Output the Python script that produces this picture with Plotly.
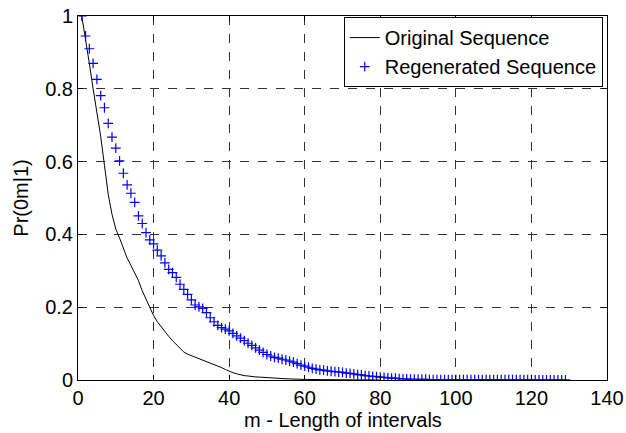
import plotly.graph_objects as go

# Original sequence (solid black line)
orig_m = [1, 2, 3, 4, 5, 6, 7, 8, 9, 10, 11, 12, 13, 14, 15, 16, 17, 18, 19, 20,
          21, 22, 23, 24, 25, 26, 27, 28, 29, 30, 31, 32, 33, 34, 35, 36, 37, 38, 39, 40,
          41, 42, 43, 44, 45, 46, 47, 48, 49, 50, 52, 54, 56, 58, 60, 65, 70, 75, 80]
orig_p = [1.0, 0.94, 0.87, 0.80, 0.74, 0.67, 0.59, 0.51, 0.455, 0.415, 0.39, 0.36, 0.335,
          0.315, 0.295, 0.273, 0.245, 0.222, 0.2, 0.177, 0.16, 0.146, 0.131, 0.12, 0.108,
          0.097, 0.086, 0.077, 0.071, 0.067, 0.064, 0.06, 0.056, 0.052, 0.048, 0.044, 0.039,
          0.034, 0.029, 0.024, 0.02, 0.017, 0.014, 0.012, 0.011, 0.009, 0.0085, 0.008, 0.007,
          0.006, 0.005, 0.004, 0.003, 0.002, 0.0015, 0.001, 0.0006, 0.0003, 0.0]

# Regenerated sequence (blue + markers), m = 1..129
regen_m = list(range(1, 130))
regen_p = [1.0, 0.945, 0.91, 0.87, 0.826, 0.781, 0.748, 0.705, 0.667, 0.637,
           0.602, 0.568, 0.536, 0.513, 0.488, 0.451, 0.43, 0.405, 0.385, 0.374,
           0.357, 0.341, 0.322, 0.304, 0.295, 0.282, 0.263, 0.249, 0.235, 0.22,
           0.206, 0.201, 0.197, 0.185, 0.171, 0.16, 0.15, 0.144, 0.14, 0.135,
           0.128, 0.121, 0.115, 0.108, 0.101, 0.095, 0.088, 0.082, 0.076, 0.07,
           0.066, 0.062, 0.06, 0.057, 0.055, 0.052, 0.049, 0.045, 0.041, 0.038,
           0.035, 0.032, 0.03, 0.028, 0.027, 0.025, 0.024, 0.023, 0.022, 0.021,
           0.019, 0.018, 0.017, 0.015, 0.014, 0.012, 0.011, 0.01, 0.009, 0.008,
           0.007, 0.006, 0.005, 0.005, 0.004, 0.003, 0.003, 0.002, 0.002, 0.002,
           0.002, 0.002, 0.001, 0.001, 0.001, 0.001, 0.001, 0.001, 0.001, 0.001,
           0.001, 0.001, 0.001, 0.001, 0.001, 0.001, 0.001, 0.001, 0.001, 0.001,
           0.001, 0.001, 0.001, 0.001, 0.001, 0.001, 0.001, 0.001, 0.001, 0.001,
           0.0005, 0.0005, 0.0005, 0.0005, 0.0005, 0.0005, 0.0005, 0.0005, 0.0005]

x_ticks = [0, 20, 40, 60, 80, 100, 120, 140]
y_ticks = [0, 0.2, 0.4, 0.6, 0.8, 1.0]
y_tick_labels = ["0", "0.2", "0.4", "0.6", "0.8", "1"]

fig = go.Figure()
fig.add_trace(go.Scatter(
    x=orig_m, y=orig_p, mode="lines", name="Original Sequence",
    line=dict(color="black", width=1),
))
fig.add_trace(go.Scatter(
    x=regen_m, y=regen_p, mode="markers", name="Regenerated Sequence",
    marker=dict(symbol="cross-thin", size=7, color="blue",
                line=dict(color="blue", width=1.2)),
))

font_family = "Liberation Sans, Arial, sans-serif"
axis_common = dict(
    showline=True, linecolor="black", linewidth=1, mirror="ticks",
    ticks="inside", ticklen=5, tickcolor="black",
    showgrid=True, gridcolor="#333333", gridwidth=1, griddash="dash",
    zeroline=False, automargin=False,
    tickfont=dict(family=font_family, size=20, color="black"),
)

fig.update_xaxes(range=[0, 140], tickvals=x_ticks, **axis_common)
fig.update_yaxes(
    range=[0, 1], tickvals=y_ticks, ticktext=y_tick_labels,
    title=dict(text="Pr(0m|1)", standoff=11,
               font=dict(family=font_family, size=20, color="black")),
    **axis_common,
)

# x-axis title placed as a paper-anchored annotation so it fits the figure
fig.add_annotation(
    text="m - Length of intervals", xref="paper", yref="paper",
    x=0.5, y=-0.11, xanchor="center", yanchor="middle", showarrow=False,
    font=dict(family=font_family, size=20, color="black"),
)

fig.update_layout(
    width=626, height=433,
    margin=dict(l=78, r=19, t=16, b=53),
    paper_bgcolor="white", plot_bgcolor="white",
    font=dict(family=font_family, size=20, color="black"),
    legend=dict(
        x=0.992, y=0.997, xanchor="right", yanchor="top",
        bgcolor="white", bordercolor="black", borderwidth=1,
        font=dict(family=font_family, size=20, color="black"),
        tracegroupgap=0, itemwidth=30,
    ),
)

# remove the browser's default page margin so the figure sits at (0, 0)
fig.write_html(
    "out.html",
    config={"displayModeBar": False},
    post_script="document.body.style.margin='0';document.body.style.overflow='hidden';",
)
